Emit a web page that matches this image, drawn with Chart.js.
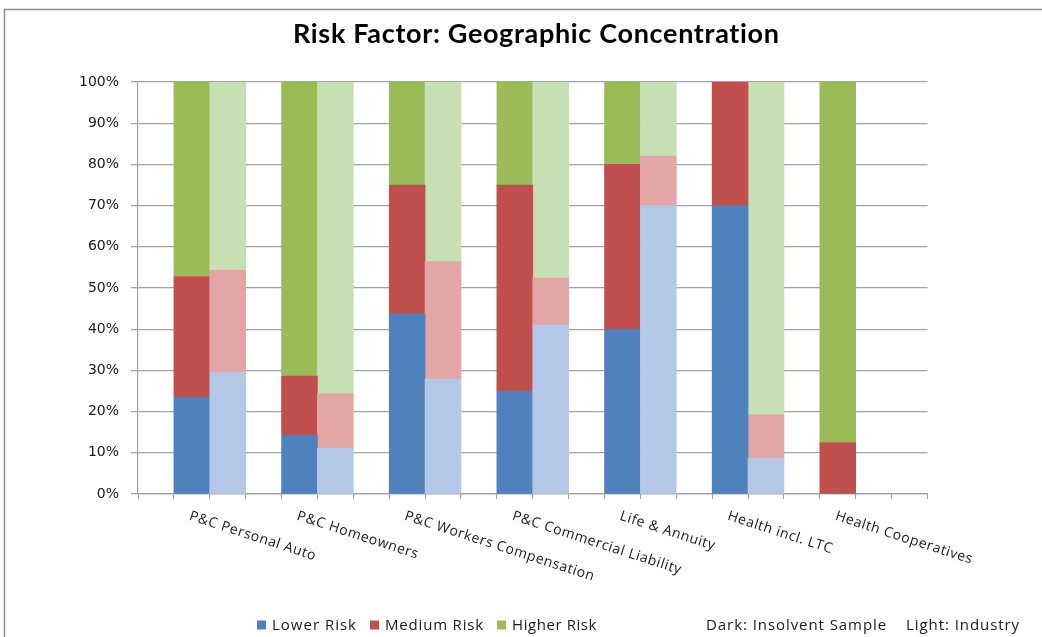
<!DOCTYPE html>
<html>
<head>
<meta charset="utf-8">
<title>Risk Factor: Geographic Concentration</title>
<script src="https://cdn.jsdelivr.net/npm/chart.js@4.4.1/dist/chart.umd.min.js"></script>
<style>
  html, body { margin: 0; padding: 0; background: #ffffff; }
  #wrap { width: 1042px; height: 637px; position: relative; }
  canvas { display: block; }
</style>
</head>
<body>
<div id="wrap"><canvas id="chart" width="1042" height="637"></canvas></div>
<script>
// Lines of business, one group of bars each (dark = insolvent sample, light = industry)
const categories = [
  'P&C Personal Auto',
  'P&C Homeowners',
  'P&C Workers Compensation',
  'P&C Commercial Liability',
  'Life & Annuity',
  'Health incl. LTC',
  'Health Cooperatives'
];

// Share of companies by geographic-concentration risk level, in percent
const insolventLower  = [23.5, 14.3, 43.75, 25, 40, 70, 0];
const insolventMedium = [29.3, 14.3, 31.25, 50, 40, 30, 12.5];
const insolventHigher = [47.2, 71.4, 25, 25, 20, 0, 87.5];

const industryLower  = [29.6, 11.1, 27.9, 41.0, 70, 8.6, null];
const industryMedium = [24.7, 13.3, 28.5, 11.4, 12, 10.7, null];
const industryHigher = [45.7, 75.6, 43.6, 47.6, 18, 80.7, null];

const seriesNames = ['Lower Risk', 'Medium Risk', 'Higher Risk'];
const yTicks = [0, 10, 20, 30, 40, 50, 60, 70, 80, 90, 100];
const noteText = ['Dark: Insolvent Sample', 'Light: Industry'];

const darkColors  = ['#4F81BD', '#C0504D', '#9BBB59'];
const lightColors = ['#B4C7E7', '#E2A6A6', '#C6E0B4'];

// Each group occupies three slots on the category axis: gap, insolvent bar, industry bar.
// One trailing gap slot closes the axis.
const slotLabels = [];
const slotKind = [];
categories.forEach(c => {
  slotLabels.push(''); slotKind.push('gap');
  slotLabels.push(c);  slotKind.push('dark');
  slotLabels.push(''); slotKind.push('light');
});
slotLabels.push(''); slotKind.push('gap');

function toSlots(darkVals, lightVals) {
  const out = [];
  for (let i = 0; i < categories.length; i++) {
    out.push(null, darkVals[i], lightVals[i]);
  }
  out.push(null);
  return out;
}
function slotColors(k) {
  return slotKind.map(s => s === 'light' ? lightColors[k] : darkColors[k]);
}

const datasets = [
  [insolventLower, industryLower],
  [insolventMedium, industryMedium],
  [insolventHigher, industryHigher]
].map((pair, k) => ({
  label: seriesNames[k],
  data: toSlots(pair[0], pair[1]),
  backgroundColor: slotColors(k),
  legendColor: darkColors[k],
  borderWidth: 0,
  barPercentage: 1,
  categoryPercentage: 1,
  stack: 'share'
}));

// Draws text so that it spans a given width, by adjusting letter spacing
function drawSpread(ctx, text, x, y, width) {
  ctx.letterSpacing = '0px';
  const natural = ctx.measureText(text).width;
  const ls = (width - natural) / Math.max(1, text.length);
  ctx.letterSpacing = ls.toFixed(2) + 'px';
  ctx.fillText(text, x, y);
  ctx.letterSpacing = '0px';
}

const decorations = {
  id: 'decorations',
  beforeDraw(chart) {
    const ctx = chart.ctx;
    ctx.save();
    ctx.fillStyle = '#ffffff';
    ctx.fillRect(0, 0, chart.width, chart.height);
    // panel frame (top and left edges)
    ctx.strokeStyle = '#8e8e8e';
    ctx.lineWidth = 1.5;
    ctx.beginPath();
    ctx.moveTo(4.5, chart.height);
    ctx.lineTo(4.5, 9.5);
    ctx.lineTo(chart.width, 9.5);
    ctx.stroke();
    ctx.restore();
  },
  afterDraw(chart) {
    const ctx = chart.ctx;
    const xs = chart.scales.x;
    ctx.save();

    // title
    ctx.fillStyle = '#000000';
    ctx.font = 'bold 27px Lato, "Open Sans", sans-serif';
    ctx.textAlign = 'left';
    ctx.textBaseline = 'alphabetic';
    drawSpread(ctx, 'Risk Factor: Geographic Concentration', 293, 43, 487);

    // slanted category labels, anchored at the insolvent bar of each group
    ctx.fillStyle = '#1a1a1a';
    ctx.font = '14px "Open Sans", sans-serif';
    ctx.textBaseline = 'top';
    ctx.letterSpacing = '0.6px';
    slotLabels.forEach((lab, i) => {
      if (!lab) return;
      const px = xs.getPixelForTick(i);
      ctx.save();
      ctx.translate(px, xs.top + 15);
      ctx.rotate(18 * Math.PI / 180);
      ctx.fillText(lab, 0, 0);
      ctx.restore();
    });
    ctx.letterSpacing = '0px';

    // legend
    const ly = 625;
    ctx.font = '15px "Open Sans", sans-serif';
    ctx.textBaseline = 'middle';
    ctx.fillStyle = '#1a1a1a';
    const legendPos = [[257, 85], [370, 99], [497, 85]];
    chart.data.datasets.forEach((ds, k) => {
      const [bx, tw] = legendPos[k];
      ctx.fillStyle = ds.legendColor;
      ctx.fillRect(bx, ly - 4.5, 9, 9);
      ctx.fillStyle = '#1a1a1a';
      drawSpread(ctx, ds.label, bx + 15, ly + 1, tw);
    });
    drawSpread(ctx, noteText[0], 706, ly + 1, 181);
    drawSpread(ctx, noteText[1], 906, ly + 1, 114);

    ctx.restore();
  }
};

new Chart(document.getElementById('chart'), {
  type: 'bar',
  data: { labels: slotLabels, datasets: datasets },
  options: {
    responsive: false,
    animation: false,
    layout: { padding: { top: 82, right: 114.5, bottom: 0, left: 0 } },
    plugins: {
      legend: { display: false },
      title: { display: false },
      tooltip: { enabled: false }
    },
    scales: {
      x: {
        stacked: true,
        offset: true,
        grid: {
          offset: true,
          drawOnChartArea: false,
          drawTicks: true,
          tickLength: 5,
          color: '#a0a0a0',
          lineWidth: 1
        },
        border: { color: '#a0a0a0', width: 1.2 },
        ticks: { display: false, autoSkip: false },
        afterFit(scale) { scale.height = 143; }
      },
      y: {
        stacked: true,
        min: 0,
        max: 100,
        afterBuildTicks(scale) { scale.ticks = yTicks.map(v => ({ value: v })); },
        grid: {
          color: '#a3a3a3',
          lineWidth: 1.3,
          tickLength: 7
        },
        border: { color: '#a0a0a0', width: 1.2 },
        ticks: {
          padding: 12,
          color: '#1a1a1a',
          font: { family: '"DejaVu Sans", sans-serif', size: 14 },
          callback: v => v + '%'
        },
        afterFit(scale) { scale.width = 138; }
      }
    }
  },
  plugins: [decorations]
});
</script>
</body>
</html>
